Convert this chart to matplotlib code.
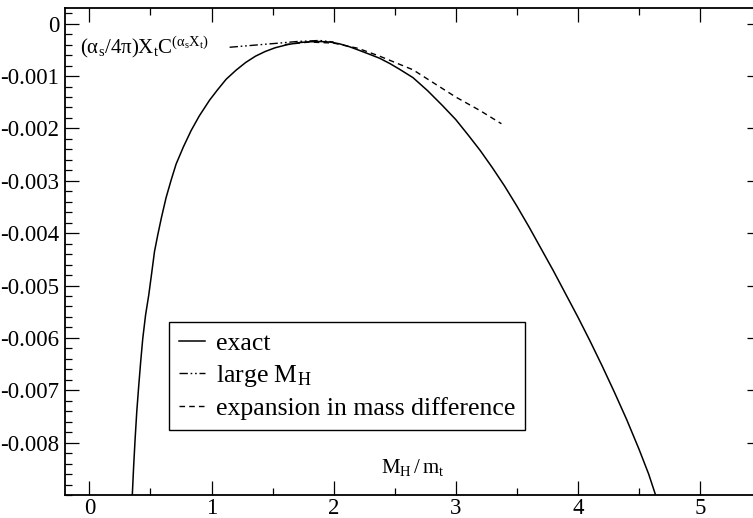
import matplotlib
matplotlib.use("Agg")
import matplotlib.pyplot as plt
from matplotlib.ticker import MultipleLocator, FixedLocator, FuncFormatter

# ---- data ----
exact_x = [0.350, 0.362, 0.374, 0.388, 0.404, 0.420, 0.437, 0.460, 0.486, 0.510,
           0.533, 0.560, 0.590, 0.628, 0.670, 0.710, 0.770, 0.833, 0.900, 0.984,
           1.050, 1.120, 1.202, 1.280, 1.360, 1.440, 1.520, 1.620, 1.720, 1.800,
           1.885, 1.970, 2.050, 2.130, 2.200, 2.290, 2.377, 2.460, 2.540, 2.650,
           2.770, 2.890, 3.000, 3.100, 3.200, 3.300, 3.400, 3.500, 3.600, 3.700,
           3.800, 3.900, 4.000, 4.100, 4.200, 4.300, 4.400, 4.500, 4.580, 4.645]
exact_y = [-0.00906, -0.00846, -0.00794, -0.00740, -0.00691, -0.00645, -0.00601, -0.00556, -0.00518, -0.00476,
           -0.00435, -0.00403, -0.00370, -0.00332, -0.00298, -0.00268, -0.00235, -0.00204, -0.00176, -0.00146,
           -0.00126, -0.00106, -0.000885, -0.000740, -0.000620, -0.000530, -0.000460, -0.000400, -0.000360, -0.000345,
           -0.000340, -0.000350, -0.000385, -0.000440, -0.000500, -0.000580, -0.000660, -0.000760, -0.000870, -0.00103,
           -0.00128, -0.00156, -0.00183, -0.00212, -0.00242, -0.00275, -0.00310, -0.00348, -0.00388, -0.00430,
           -0.00472, -0.00516, -0.00560, -0.00606, -0.00654, -0.00704, -0.00756, -0.00812, -0.00860, -0.00906]

largeMH_x = [1.148, 1.300, 1.450, 1.557, 1.700, 1.885, 2.000]
largeMH_y = [-0.00045, -0.00042, -0.00039, -0.00037, -0.00034, -0.00032, -0.00035]

expan_x = [1.600, 1.800, 2.000, 2.200, 2.377, 2.650, 3.000, 3.200, 3.374]
expan_y = [-0.00040, -0.00035, -0.00037, -0.00047, -0.00062, -0.00088, -0.00140, -0.00166, -0.00191]

y_tick_values = [0.0, -0.001, -0.002, -0.003, -0.004, -0.005, -0.006, -0.007, -0.008]

legend_labels = ["exact", r"large $M_H$", "expansion in mass difference"]
x_label = r"$M_H\,/\,m_t$"
y_label = r"$(\alpha_s/4\pi)X_tC^{(\alpha_sX_t)}$"

# ---- style ----
plt.rcParams["font.family"] = ["Liberation Serif", "DejaVu Serif"]
plt.rcParams["mathtext.fontset"] = "custom"
plt.rcParams["mathtext.rm"] = "Liberation Serif"
plt.rcParams["mathtext.it"] = "Liberation Serif"
plt.rcParams["mathtext.default"] = "regular"

fig = plt.figure(figsize=(7.53, 5.18), dpi=100)
W, H = 753.0, 518.0
ax = fig.add_axes([65 / W, 1 - 495 / H, (761 - 65) / W, (495 - 8) / H])

ax.plot(exact_x, exact_y, color="black", lw=1.1, label=legend_labels[0])
ax.plot(largeMH_x, largeMH_y, color="black", lw=1.0,
        linestyle=(0, (6, 2, 1.2, 2, 1.2, 2)), label=legend_labels[1])
ax.plot(expan_x, expan_y, color="black", lw=1.0,
        linestyle=(0, (4, 3)), label=legend_labels[2])

ax.set_xlim(-0.2, 5.5)
ax.set_ylim(-0.009, 0.0003)

ax.xaxis.set_major_locator(MultipleLocator(1))
ax.xaxis.set_minor_locator(MultipleLocator(0.5))
ax.yaxis.set_major_locator(FixedLocator(y_tick_values))
ax.yaxis.set_minor_locator(MultipleLocator(0.0002))

def yfmt(v, pos):
    if abs(v) < 1e-12:
        return "0"
    return "%.3f" % v

ax.yaxis.set_major_formatter(FuncFormatter(yfmt))
ax.xaxis.set_major_formatter(FuncFormatter(lambda v, p: "%d" % round(v)))

ax.tick_params(which="both", direction="in", top=True, right=True,
               labelsize=16.5, width=0.9, colors="black")
ax.tick_params(which="major", length=10)
ax.tick_params(axis="y", which="major", pad=4)
ax.tick_params(axis="x", which="major", pad=2)
ax.tick_params(which="minor", length=5)

for s in ax.spines.values():
    s.set_linewidth(1.3)
    s.set_color("black")

ax.text(-0.075, -0.00044, y_label, fontsize=15, ha="left", va="center")
ax.text(2.65, -0.00848, x_label, fontsize=15, ha="center", va="center")

leg = ax.legend(loc="upper left", bbox_to_anchor=(169 / W, 1 - 322 / H),
                bbox_transform=fig.transFigure, borderaxespad=0,
                fontsize=18.5, frameon=True, fancybox=False, framealpha=1,
                edgecolor="black", handlelength=1.0, handletextpad=0.42,
                labelspacing=0.3, borderpad=0.4)
leg.get_frame().set_linewidth(1.0)

fig.savefig("out.png", dpi=100)
